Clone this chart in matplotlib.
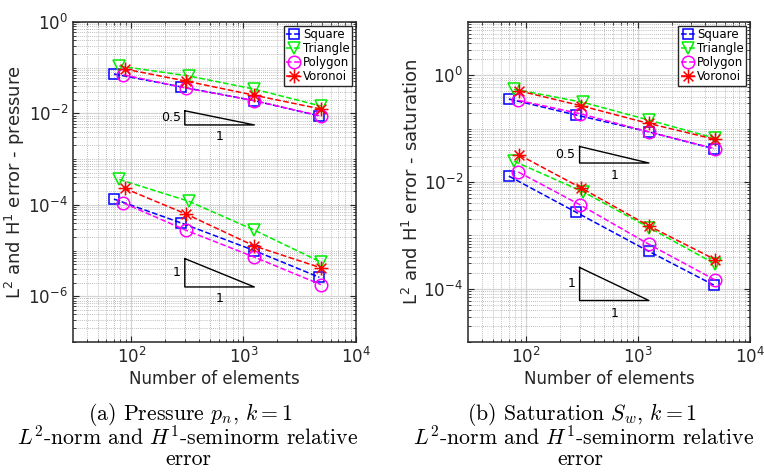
import matplotlib
matplotlib.use('Agg')
import matplotlib.pyplot as plt
from matplotlib.path import Path
import numpy as np

# data
x_sq = [70, 280, 1250, 4750]
x_tr = [78, 325, 1250, 4900]
x_po = [85, 305, 1250, 4900]
x_vo = [87, 308, 1250, 4900]

# pressure: upper group (H1) and lower group (L2)
p_h1_sq = [0.073, 0.038, 0.019, 0.0088]
p_h1_tr = [0.109, 0.066, 0.034, 0.0145]
p_h1_po = [0.070, 0.036, 0.019, 0.0088]
p_h1_vo = [0.094, 0.051, 0.025, 0.0125]
p_l2_sq = [1.34e-4, 4.0e-5, 1.0e-5, 2.6e-6]
p_l2_tr = [3.6e-4, 1.2e-4, 2.8e-5, 5.6e-6]
p_l2_po = [1.1e-4, 2.8e-5, 7.2e-6, 1.8e-6]
p_l2_vo = [2.3e-4, 6.3e-5, 1.26e-5, 4.2e-6]

# saturation
s_h1_sq = [0.36, 0.18, 0.087, 0.042]
s_h1_tr = [0.55, 0.31, 0.145, 0.066]
s_h1_po = [0.34, 0.19, 0.087, 0.042]
s_h1_vo = [0.51, 0.27, 0.125, 0.063]
s_l2_sq = [0.0129, 0.0027, 5.0e-4, 1.17e-4]
s_l2_tr = [0.0245, 0.0065, 1.4e-3, 2.9e-4]
s_l2_po = [0.0154, 0.0037, 6.8e-4, 1.45e-4]
s_l2_vo = [0.032, 0.0078, 1.5e-3, 3.5e-4]

labels = ['Square', 'Triangle', 'Polygon', 'Voronoi']
xs = [x_sq, x_tr, x_po, x_vo]

# slope triangles: x range, bottom y, slope
tri_x = [300, 1250]
p_tri = [(5.6e-3, 0.5), (1.6e-6, 1)]
s_tri = [(0.0227, 0.5), (6.0e-5, 1)]

# matlab style asterisk (+ and x together)
d = np.sqrt(0.5)
ast = Path([(-1, 0), (1, 0), (0, -1), (0, 1), (-d, -d), (d, d), (-d, d), (d, -d)],
           [Path.MOVETO, Path.LINETO] * 4)

styles = [dict(color='#0000ff', marker='s', ms=7),
          dict(color='#00ee00', marker='v', ms=9),
          dict(color='#ff00ff', marker='o', ms=9),
          dict(color='#ff0000', marker=ast, ms=10)]

fig = plt.figure(figsize=(7.64, 4.72), dpi=100)
ax1 = fig.add_axes([0.0955, 0.2754, 0.370, 0.678])
ax2 = fig.add_axes([0.6126, 0.2754, 0.369, 0.678])


def draw_panel(ax, upper, lower, tris, ylim, ylabel, yticks):
    for i in range(4):
        st = styles[i]
        ax.plot(xs[i], upper[i], ls='--', lw=1.1, color=st['color'], marker=st['marker'],
                ms=st['ms'], mfc='none', mec=st['color'], mew=1.1, label=labels[i])
        ax.plot(xs[i], lower[i], ls='--', lw=1.1, color=st['color'], marker=st['marker'],
                ms=st['ms'], mfc='none', mec=st['color'], mew=1.1)
    for yb, k in tris:
        yt = yb * (tri_x[1] / tri_x[0]) ** k
        ax.plot([tri_x[0], tri_x[0], tri_x[1], tri_x[0]], [yt, yb, yb, yt], color='k', lw=1)
        ax.text(tri_x[0] * 0.92, np.sqrt(yb * yt), f'{k:g}', ha='right', va='center', fontsize=9)
        ax.text(np.sqrt(tri_x[0] * tri_x[1]), yb / 10 ** 0.12, '1', ha='center', va='top', fontsize=9)
    ax.set_xscale('log')
    ax.set_yscale('log')
    ax.set_xlim(10 ** 1.48, 1e4)
    ax.set_ylim(*ylim)
    ax.set_xticks([1e2, 1e3, 1e4])
    ax.set_yticks(yticks)
    ax.yaxis.set_minor_locator(matplotlib.ticker.LogLocator(base=10, subs=np.arange(1, 10), numticks=30))
    ax.yaxis.set_minor_formatter(matplotlib.ticker.NullFormatter())
    ax.grid(True, which='major', color='#d4d4d4', lw=0.9, ls='-')
    ax.grid(True, which='minor', color='#a8a8a8', lw=0.6, ls=(0, (1, 1.5)))
    ax.set_axisbelow(True)
    ax.tick_params(which='both', direction='in', top=True, right=True, colors='#262626',
                   labelsize=12)
    ax.tick_params(which='major', length=4)
    ax.tick_params(which='minor', length=2)
    for s in ax.spines.values():
        s.set_color('#262626')
        s.set_linewidth(1.1)
    ax.set_xlabel('Number of elements', fontsize=12, color='#262626', labelpad=2)
    ax.set_ylabel(ylabel, fontsize=13, color='#262626', labelpad=1)
    leg = ax.legend(loc='upper right', fontsize=8.5, handlelength=1.2, handletextpad=0.2,
                    borderpad=0.2, labelspacing=0.1, borderaxespad=0.3, fancybox=False,
                    framealpha=1, edgecolor='#262626')
    leg.get_frame().set_linewidth(1.0)


draw_panel(ax1, [p_h1_sq, p_h1_tr, p_h1_po, p_h1_vo], [p_l2_sq, p_l2_tr, p_l2_po, p_l2_vo],
           p_tri, (1e-7, 1e0), 'L$^2$ and H$^1$ error - pressure', [1e0, 1e-2, 1e-4, 1e-6])
draw_panel(ax2, [s_h1_sq, s_h1_tr, s_h1_po, s_h1_vo], [s_l2_sq, s_l2_tr, s_l2_po, s_l2_vo],
           s_tri, (1e-5, 1e1), 'L$^2$ and H$^1$ error - saturation', [1e0, 1e-2, 1e-4])

cap = dict(family='cmr10', math_fontfamily='cm', fontsize=15.7, ha='center', va='center')
fig.text(190 / 764, 1 - 414 / 472, r'(a) Pressure $p_n$, $k = 1$', **cap)
fig.text(188 / 764, 1 - 437 / 472, r'$L^2$-norm and $H^1$-seminorm relative', **cap)
fig.text(188 / 764, 1 - 459 / 472, 'error', **cap)
fig.text(582 / 764, 1 - 414 / 472, r'(b) Saturation $S_w$, $k = 1$', **cap)
fig.text(584 / 764, 1 - 437 / 472, r'$L^2$-norm and $H^1$-seminorm relative', **cap)
fig.text(580 / 764, 1 - 459 / 472, 'error', **cap)

fig.savefig('out.png', dpi=100)
